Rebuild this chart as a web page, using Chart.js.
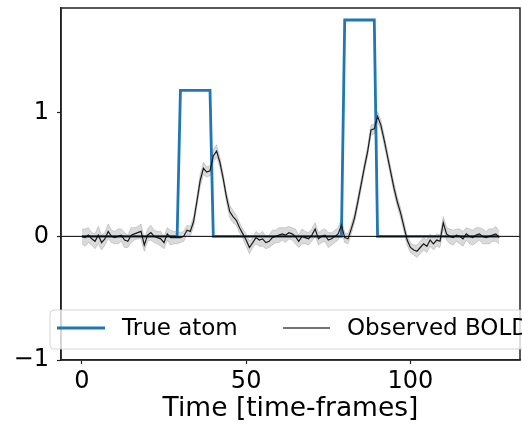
<!DOCTYPE html>
<html>
<head>
<meta charset="utf-8">
<script src="https://cdn.jsdelivr.net/npm/chart.js@4.4.1/dist/chart.umd.min.js"></script>
<style>
  html, body { margin: 0; padding: 0; background: #fff; }
</style>
</head>
<body>
<canvas id="chart" width="522" height="425"></canvas>
<script>
// time axis (frames)
const timeFrames = [
  0, 1, 2, 3, 4, 5, 6, 7, 8, 9, 10, 11, 12, 13, 14, 15, 16, 17, 18, 19,
  20, 21, 22, 23, 24, 25, 26, 27, 28, 29, 30, 31, 32, 33, 34, 35, 36, 37, 38, 39,
  40, 41, 42, 43, 44, 45, 46, 47, 48, 49, 50, 51, 52, 53, 54, 55, 56, 57, 58, 59,
  60, 61, 62, 63, 64, 65, 66, 67, 68, 69, 70, 71, 72, 73, 74, 75, 76, 77, 78, 79,
  80, 81, 82, 83, 84, 85, 86, 87, 88, 89, 90, 91, 92, 93, 94, 95, 96, 97, 98, 99,
  100, 101, 102, 103, 104, 105, 106, 107, 108, 109, 110, 111, 112, 113, 114, 115, 116, 117, 118, 119,
  120, 121, 122, 123, 124, 125, 126, 127
];

// true atom: two blocks
const atomOnsets = [30, 80];
const atomOffsets = [39, 89];
const atomHeights = [1.18, 1.75];

// observed BOLD (mean) and spread of the grey band
const boldMean = [
  0.00, -0.01, 0.01, -0.02, -0.04, 0.01, -0.05, -0.02, 0.04, 0.00,
  -0.01, 0.00, 0.01, -0.03, -0.04, 0.01, 0.02, 0.03, 0.04, -0.07,
  0.01, 0.03, 0.00, -0.01, -0.02, -0.05, 0.02, -0.01, -0.01, -0.01,
  -0.01, 0.00, 0.05, 0.04, 0.12, 0.28, 0.45, 0.55, 0.52, 0.53,
  0.65, 0.69, 0.60, 0.47, 0.32, 0.20, 0.16, 0.13, 0.07, 0.02,
  -0.03, -0.09, -0.05, -0.01, -0.03, -0.02, -0.05, -0.04, -0.01, 0.00,
  0.01, 0.02, 0.01, 0.03, 0.02, 0.00, -0.04, 0.00, -0.01, -0.02,
  0.01, 0.06, -0.02, 0.00, 0.01, -0.03, -0.02, 0.00, 0.02, 0.09,
  -0.01, -0.02, 0.06, 0.15, 0.28, 0.42, 0.56, 0.69, 0.86, 0.87,
  0.97, 0.90, 0.78, 0.65, 0.52, 0.39, 0.28, 0.19, 0.08, -0.03,
  -0.09, -0.11, -0.12, -0.09, -0.06, -0.08, -0.03, -0.06, -0.03, -0.04,
  0.11, 0.02, 0.00, -0.01, 0.01, 0.00, -0.02, 0.02, 0.00, -0.01,
  0.01, 0.02, 0.00, -0.01, 0.00, 0.01, 0.02, -0.01
];
const boldSpread = [
  0.06, 0.07, 0.06, 0.05, 0.06, 0.07, 0.06, 0.05, 0.06, 0.05,
  0.05, 0.06, 0.05, 0.06, 0.05, 0.06, 0.05, 0.05, 0.06, 0.05,
  0.05, 0.06, 0.05, 0.05, 0.06, 0.05, 0.05, 0.06, 0.05, 0.05,
  0.04, 0.04, 0.04, 0.04, 0.04, 0.04, 0.05, 0.05, 0.04, 0.04,
  0.05, 0.05, 0.04, 0.04, 0.04, 0.05, 0.05, 0.04, 0.04, 0.04,
  0.05, 0.05, 0.04, 0.05, 0.05, 0.06, 0.05, 0.05, 0.06, 0.05,
  0.06, 0.05, 0.06, 0.05, 0.05, 0.06, 0.05, 0.06, 0.05, 0.05,
  0.05, 0.05, 0.05, 0.05, 0.05, 0.06, 0.05, 0.05, 0.05, 0.05,
  0.04, 0.04, 0.04, 0.04, 0.04, 0.04, 0.04, 0.04, 0.04, 0.04,
  0.04, 0.04, 0.04, 0.04, 0.04, 0.04, 0.04, 0.04, 0.04, 0.04,
  0.04, 0.04, 0.05, 0.05, 0.05, 0.05, 0.05, 0.05, 0.05, 0.05,
  0.05, 0.05, 0.06, 0.06, 0.05, 0.06, 0.06, 0.05, 0.06, 0.06,
  0.06, 0.05, 0.06, 0.05, 0.06, 0.05, 0.06, 0.05
];

const xTicks = [0, 50, 100];
const yTicks = [-1, 0, 1];
const xLimits = [-6.35, 133.35];
const yLimits = [-1, 1.847];

const FONT = 'DejaVu Sans';

function atomValue(t) {
    for (let k = 0; k < atomOnsets.length; k++) {
        if (t >= atomOnsets[k] && t <= atomOffsets[k]) return atomHeights[k];
    }
    return 0;
}

const atomPoints = timeFrames.map(t => ({ x: t, y: atomValue(t) }));
const meanPoints = timeFrames.map((t, i) => ({ x: t, y: boldMean[i] }));
const lowPoints = timeFrames.map((t, i) => ({ x: t, y: boldMean[i] - boldSpread[i] }));
const highPoints = timeFrames.map((t, i) => ({ x: t, y: boldMean[i] + boldSpread[i] }));

// zero line, spines and the in-axes legend
const framePlugin = {
    id: 'frame',
    afterDatasetsDraw(chart) {
        const { ctx, chartArea: a } = chart;
        const y0 = chart.scales.y.getPixelForValue(0);
        ctx.save();
        ctx.strokeStyle = '#000';
        ctx.lineWidth = 1;
        ctx.beginPath();
        ctx.moveTo(a.left, y0);
        ctx.lineTo(a.right, y0);
        ctx.stroke();

        ctx.strokeStyle = '#222';
        ctx.lineWidth = 1.5;
        ctx.strokeRect(a.left, a.top, a.right - a.left, a.bottom - a.top);
        ctx.restore();
    },
    afterDraw(chart) {
        const { ctx, chartArea: a } = chart;
        const left = a.left - 11;
        const top = a.bottom - 50;
        const w = 530, h = 39, r = 4;
        ctx.save();
        ctx.beginPath();
        ctx.moveTo(left + r, top);
        ctx.lineTo(left + w - r, top);
        ctx.arcTo(left + w, top, left + w, top + r, r);
        ctx.lineTo(left + w, top + h - r);
        ctx.arcTo(left + w, top + h, left + w - r, top + h, r);
        ctx.lineTo(left + r, top + h);
        ctx.arcTo(left, top + h, left, top + h - r, r);
        ctx.lineTo(left, top + r);
        ctx.arcTo(left, top, left + r, top, r);
        ctx.closePath();
        ctx.fillStyle = 'rgba(255,255,255,0.8)';
        ctx.fill();
        ctx.strokeStyle = 'rgba(204,204,204,0.8)';
        ctx.lineWidth = 1;
        ctx.stroke();

        const cy = top + h / 2 - 1.5;
        ctx.lineCap = 'butt';
        ctx.strokeStyle = '#1f77b4';
        ctx.lineWidth = 2.8;
        ctx.beginPath();
        ctx.moveTo(left + 7, cy);
        ctx.lineTo(left + 55, cy);
        ctx.stroke();

        ctx.strokeStyle = '#444';
        ctx.lineWidth = 1.3;
        ctx.beginPath();
        ctx.moveTo(left + 233, cy);
        ctx.lineTo(left + 280, cy);
        ctx.stroke();

        ctx.fillStyle = '#000';
        ctx.font = `23px "${FONT}"`;
        ctx.textBaseline = 'middle';
        ctx.fillText('True atom', left + 72, cy + 1);
        ctx.fillText('Observed BOLD', left + 297, cy + 1);
        ctx.restore();
    }
};

const tickFont = { family: FONT, size: 24 };

new Chart(document.getElementById('chart'), {
    type: 'line',
    data: {
        datasets: [
            {
                label: 'band low',
                data: lowPoints,
                borderColor: 'rgba(150,150,150,0.4)',
                borderWidth: 1,
                pointRadius: 0,
                fill: false,
                tension: 0,
                order: 4
            },
            {
                label: 'band high',
                data: highPoints,
                borderColor: 'rgba(150,150,150,0.4)',
                borderWidth: 1,
                backgroundColor: 'rgba(150,150,150,0.35)',
                pointRadius: 0,
                fill: '-1',
                tension: 0,
                order: 3
            },
            {
                label: 'True atom',
                data: atomPoints,
                borderColor: '#1f77b4',
                borderWidth: 2.8,
                pointRadius: 0,
                fill: false,
                tension: 0,
                order: 2
            },
            {
                label: 'Observed BOLD',
                data: meanPoints,
                borderColor: '#1a1a1a',
                borderWidth: 1.2,
                pointRadius: 0,
                fill: false,
                tension: 0,
                order: 1
            }
        ]
    },
    options: {
        responsive: false,
        animation: false,
        layout: { padding: { left: 0, right: 2, top: 8, bottom: 0 } },
        plugins: {
            legend: { display: false },
            tooltip: { enabled: false }
        },
        scales: {
            x: {
                type: 'linear',
                min: xLimits[0],
                max: xLimits[1],
                afterBuildTicks: s => { s.ticks = xTicks.map(v => ({ value: v })); },
                afterFit: s => { s.height = 65; s.paddingLeft = 0; s.paddingRight = 0; },
                ticks: { font: tickFont, color: '#000', padding: 3, maxRotation: 0, autoSkip: false },
                grid: { drawOnChartArea: false, drawTicks: true, tickLength: 4, color: '#222', tickWidth: 1.2 },
                border: { display: true, color: '#222', width: 1.5 },
                title: {
                    display: true,
                    text: 'Time [time-frames]',
                    color: '#000',
                    font: { family: FONT, size: 26.5 },
                    padding: { top: 0, bottom: 0 }
                }
            },
            y: {
                min: yLimits[0],
                max: yLimits[1],
                afterBuildTicks: s => { s.ticks = yTicks.map(v => ({ value: v })); },
                afterFit: s => { s.width = 61; s.paddingTop = 0; s.paddingBottom = 0; },
                ticks: {
                    font: tickFont,
                    color: '#000',
                    padding: 8,
                    autoSkip: false,
                    callback: v => (v < 0 ? '\u2212' + Math.abs(v) : String(v))
                },
                grid: { drawOnChartArea: false, drawTicks: true, tickLength: 4, color: '#222', tickWidth: 1.2 },
                border: { display: true, color: '#222', width: 1.5 }
            }
        }
    },
    plugins: [framePlugin]
});
</script>
</body>
</html>
